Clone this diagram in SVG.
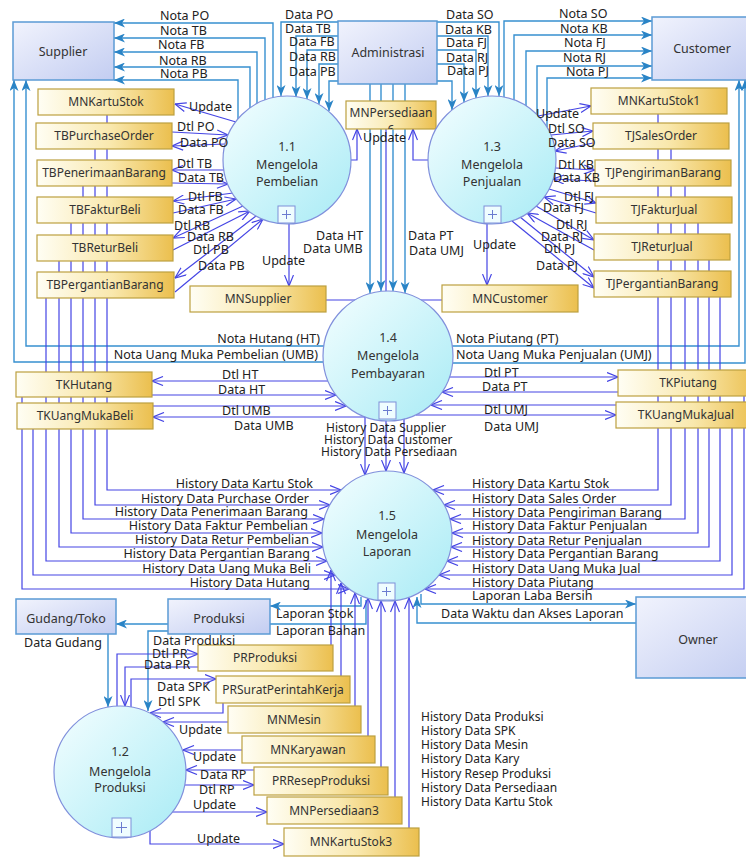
<svg xmlns="http://www.w3.org/2000/svg" width="746" height="858" viewBox="0 0 746 858">
<defs>
<linearGradient id="ge" x1="0" y1="0" x2="1" y2="1"><stop offset="0" stop-color="#f1f3fd"/><stop offset="1" stop-color="#c3cdf1"/></linearGradient>
<linearGradient id="gs" x1="0" y1="0" x2="1" y2="0"><stop offset="0" stop-color="#fffef4"/><stop offset="0.55" stop-color="#f9e8ad"/><stop offset="1" stop-color="#ebbf4e"/></linearGradient>
<linearGradient id="gc" x1="0" y1="0" x2="1" y2="1"><stop offset="0" stop-color="#f4feff"/><stop offset="1" stop-color="#a8ebf5"/></linearGradient>
<clipPath id="cpP"><rect x="346" y="101" width="90" height="28"/></clipPath>
<marker id="fa" viewBox="0 0 11 9" refX="11" refY="4.5" markerWidth="11" markerHeight="9" markerUnits="userSpaceOnUse" orient="auto"><path d="M0,0 L11,4.5 L0,9 L3,4.5 z" fill="#2a84c6"/></marker>
<marker id="oa" viewBox="0 0 12 10" refX="11.5" refY="5" markerWidth="12" markerHeight="10" markerUnits="userSpaceOnUse" orient="auto"><path d="M0.5,0.5 L11.5,5 L0.5,9.5" fill="none" stroke="#4444e4" stroke-width="1.2"/></marker>
<style>
.s{fill:none;stroke:#3790d0;stroke-width:1.4;marker-end:url(#fa)}
.v{fill:none;stroke:#4444e4;stroke-width:1.2;marker-end:url(#oa)}
.t{font-family:"Noto Sans","Open Sans",sans-serif;font-size:12.5px;fill:#222}
.sm{font-size:12px}
.n{font-family:"Noto Sans","Open Sans",sans-serif;font-size:12px;fill:#333;text-anchor:middle}
.e{font-family:"Noto Sans","Open Sans",sans-serif;font-size:12.5px;fill:#333;text-anchor:middle}
.st{fill:url(#gs);stroke:#bca040;stroke-width:1.2}
.en{fill:url(#ge);stroke:#5b9bd5;stroke-width:1.5}
.pc{fill:url(#gc);stroke:#8090dc;stroke-width:1.2}
.pl{fill:#effdff;stroke:#7e8fd8;stroke-width:1}
.px{fill:none;stroke:#6a7cd0;stroke-width:1}
</style>
</defs>
<rect width="746" height="858" fill="#ffffff"/>
<g id="connectors">
<path class="s" d="M273,98 V23 H114"/>
<path class="s" d="M265,100 V38 H114"/>
<path class="s" d="M257,104 V52 H114"/>
<path class="s" d="M250,108 V67 H114"/>
<path class="s" d="M238,119 V80 H114"/>
<path class="s" d="M338,22 H281 V96"/>
<path class="s" d="M338,36 H296 V97"/>
<path class="s" d="M338,50 H307 V99"/>
<path class="s" d="M338,64 H319 V104"/>
<path class="s" d="M338,81 H329 V111"/>
<path class="s" d="M437,22 H499 V96"/>
<path class="s" d="M437,36 H488 V96"/>
<path class="s" d="M437,50 H476 V98"/>
<path class="s" d="M437,64 H464 V102"/>
<path class="s" d="M437,81 H452 V110"/>
<path class="s" d="M504,97 V21 H652"/>
<path class="s" d="M514,100 V35 H652"/>
<path class="s" d="M526,106 V51 H652"/>
<path class="s" d="M537,114 V66 H652"/>
<path class="s" d="M547,127 V78 H652"/>
<path class="s" d="M370,84 V293"/>
<path class="s" d="M381,84 V291"/>
<path class="s" d="M393,84 V291"/>
<path class="s" d="M405,84 V293"/>
<path class="s" d="M324,346 H26 V80"/>
<path class="s" d="M323,362 H14 V80"/>
<path class="s" d="M452,346 H739 V80"/>
<path class="s" d="M453,363 H745 V80"/>
<path class="s" d="M421,594 V604 H636"/>
<path class="s" d="M636,623 H417 V597"/>
<path class="s" d="M361,597 V606 H270"/>
<path class="s" d="M366,600 V624 H116"/>
<path class="s" d="M108,634 V707"/>
<path class="s" d="M168,631 H148 V711"/>
<path class="v" d="M236,122 L175,104"/>
<path class="v" d="M172,132 L228,135"/>
<path class="v" d="M225,144 L172,146"/>
<path class="v" d="M224,170 L172,170"/>
<path class="v" d="M172,183 L228,184"/>
<path class="v" d="M233,193 L173,201"/>
<path class="v" d="M173,213 L236,199"/>
<path class="v" d="M243,206 L173,238"/>
<path class="v" d="M173,250 L250,211"/>
<path class="v" d="M256,216 L175,278"/>
<path class="v" d="M175,292 L263,219"/>
<path class="v" d="M289,224 V286"/>
<path class="v" d="M351,160 H357 V129"/>
<path class="v" d="M428,160 H413 V129"/>
<path class="v" d="M487,224 V285"/>
<path class="v" d="M326,300 H365 V475"/>
<path class="v" d="M442,300 H404 V473"/>
<path class="v" d="M386,129 V471"/>
<path class="v" d="M538,116 L591,106"/>
<path class="v" d="M551,135 L593,131"/>
<path class="v" d="M593,143 L555,151"/>
<path class="v" d="M556,168 L595,170"/>
<path class="v" d="M595,181 L553,179"/>
<path class="v" d="M549,189 L596,203"/>
<path class="v" d="M596,213 L544,197"/>
<path class="v" d="M536,206 L594,240"/>
<path class="v" d="M594,250 L527,213"/>
<path class="v" d="M520,217 L594,277"/>
<path class="v" d="M512,221 L594,288"/>
<path class="v" d="M328,381 H152"/>
<path class="v" d="M152,395 H336"/>
<path class="v" d="M153,406 H346"/>
<path class="v" d="M365,417 H153"/>
<path class="v" d="M449,377 H618"/>
<path class="v" d="M618,392 H442"/>
<path class="v" d="M616,405 H431"/>
<path class="v" d="M416,415 H616"/>
<path class="v" d="M107,115 V490 H341"/>
<path class="v" d="M95,149 V505 H330"/>
<path class="v" d="M83,186 V519 H324"/>
<path class="v" d="M71,223 V533 H322"/>
<path class="v" d="M59,261 V547 H323"/>
<path class="v" d="M46,298 V561 H327"/>
<path class="v" d="M33,429 V575 H335"/>
<path class="v" d="M22,397 V589 H349"/>
<path class="v" d="M658,114 V490 H433"/>
<path class="v" d="M671,149 V505 H444"/>
<path class="v" d="M685,186 V519 H450"/>
<path class="v" d="M698,223 V533 H452"/>
<path class="v" d="M709,260 V547 H451"/>
<path class="v" d="M720,297 V561 H447"/>
<path class="v" d="M732,428 V575 H439"/>
<path class="v" d="M744,396 V589 H425"/>
<path class="v" d="M331,645 V570"/>
<path class="v" d="M341,676 V583"/>
<path class="v" d="M355,706 V593"/>
<path class="v" d="M368,736 V598"/>
<path class="v" d="M381,767 V601"/>
<path class="v" d="M395,797 V601"/>
<path class="v" d="M409,828 V598"/>
<path class="v" d="M117,706 V654 H198"/>
<path class="v" d="M198,667 H125 V706"/>
<path class="v" d="M131,707 V679 H216"/>
<path class="v" d="M223,703 V713 H150"/>
<path class="v" d="M228,722 H163"/>
<path class="v" d="M242,750 H183"/>
<path class="v" d="M254,770 H186"/>
<path class="v" d="M185,785 H254"/>
<path class="v" d="M172,812 H267"/>
<path class="v" d="M150,831 V844 H284"/>
</g>
<g id="supplier"><rect class="en" x="13" y="22" width="101" height="58"/><text class="e" x="63" y="56">Supplier</text></g>
<g id="administrasi"><rect class="en" x="338" y="21" width="99" height="63"/><text class="e" x="388" y="57">Administrasi</text></g>
<g id="customer"><rect class="en" x="652" y="17" width="100" height="63"/><text class="e" x="702" y="53">Customer</text></g>
<g id="gudang"><rect class="en" x="16" y="599" width="100" height="35"/><text class="e" x="66" y="623">Gudang/Toko</text></g>
<g id="produksi"><rect class="en" x="168" y="599" width="102" height="35"/><text class="e" x="219" y="623">Produksi</text></g>
<g id="owner"><rect class="en" x="636" y="597" width="124" height="81"/><text class="e" x="698" y="644">Owner</text></g>
<g id="mnkartustok"><rect class="st" x="38" y="89" width="136" height="26"/><text class="n" x="106" y="106">MNKartuStok</text></g>
<g id="tbpurchaseorder"><rect class="st" x="36" y="123" width="136" height="26"/><text class="n" x="104" y="140">TBPurchaseOrder</text></g>
<g id="tbpenerimaanbarang"><rect class="st" x="37" y="160" width="135" height="26"/><text class="n" x="104" y="177">TBPenerimaanBarang</text></g>
<g id="tbfakturbeli"><rect class="st" x="37" y="197" width="136" height="26"/><text class="n" x="105" y="214">TBFakturBeli</text></g>
<g id="tbreturbeli"><rect class="st" x="37" y="235" width="136" height="26"/><text class="n" x="105" y="252">TBReturBeli</text></g>
<g id="tbpergantianbarang"><rect class="st" x="37" y="272" width="137" height="26"/><text class="n" x="105" y="289">TBPergantianBarang</text></g>
<g id="mnsupplier"><rect class="st" x="190" y="286" width="136" height="26"/><text class="n" x="258" y="303">MNSupplier</text></g>
<g id="mncustomer"><rect class="st" x="442" y="285" width="136" height="27"/><text class="n" x="510" y="303">MNCustomer</text></g>
<g id="mnpersediaan6"><rect class="st" x="346" y="101" width="90" height="28"/><text class="n" x="391" y="117">MNPersediaan</text><text class="n" x="391" y="134" clip-path="url(#cpP)">6</text></g>
<g id="mnkartustok1"><rect class="st" x="591" y="88" width="136" height="26"/><text class="n" x="659" y="105">MNKartuStok1</text></g>
<g id="tjsalesorder"><rect class="st" x="593" y="123" width="136" height="26"/><text class="n" x="661" y="140">TJSalesOrder</text></g>
<g id="tjpengirimanbarang"><rect class="st" x="595" y="160" width="136" height="26"/><text class="n" x="663" y="177">TJPengirimanBarang</text></g>
<g id="tjfakturjual"><rect class="st" x="596" y="197" width="136" height="26"/><text class="n" x="664" y="214">TJFakturJual</text></g>
<g id="tjreturjual"><rect class="st" x="594" y="234" width="136" height="26"/><text class="n" x="662" y="251">TJReturJual</text></g>
<g id="tjpergantianbarang"><rect class="st" x="594" y="271" width="137" height="26"/><text class="n" x="662" y="288">TJPergantianBarang</text></g>
<g id="tkhutang"><rect class="st" x="16" y="372" width="136" height="25"/><text class="n" x="84" y="389">TKHutang</text></g>
<g id="tkuangmukabeli"><rect class="st" x="17" y="403" width="136" height="26"/><text class="n" x="85" y="420">TKUangMukaBeli</text></g>
<g id="tkpiutang"><rect class="st" x="618" y="370" width="140" height="26"/><text class="n" x="688" y="387">TKPiutang</text></g>
<g id="tkuangmukajual"><rect class="st" x="616" y="402" width="140" height="26"/><text class="n" x="686" y="419">TKUangMukaJual</text></g>
<g id="prproduksi"><rect class="st" x="198" y="645" width="135" height="26"/><text class="n" x="265" y="662">PRProduksi</text></g>
<g id="prsuratperintahkerja"><rect class="st" x="216" y="676" width="134" height="27"/><text class="n" x="283" y="694">PRSuratPerintahKerja</text></g>
<g id="mnmesin"><rect class="st" x="228" y="706" width="133" height="27"/><text class="n" x="294" y="724">MNMesin</text></g>
<g id="mnkaryawan"><rect class="st" x="242" y="736" width="133" height="27"/><text class="n" x="308" y="754">MNKaryawan</text></g>
<g id="prresepproduksi"><rect class="st" x="254" y="767" width="134" height="28"/><text class="n" x="321" y="785">PRResepProduksi</text></g>
<g id="mnpersediaan3"><rect class="st" x="267" y="797" width="135" height="27"/><text class="n" x="334" y="815">MNPersediaan3</text></g>
<g id="mnkartustok3"><rect class="st" x="284" y="828" width="135" height="28"/><text class="n" x="351" y="846">MNKartuStok3</text></g>
<g id="p11"><circle class="pc" cx="287" cy="160" r="64"/><text class="e" x="287" y="151">1.1</text><text class="e" x="287" y="169">Mengelola</text><text class="e" x="287" y="186">Pembelian</text><rect class="pl" x="278" y="206" width="17" height="17"/><path class="px" d="M282,214.5h9M286.5,210v9"/></g>
<g id="p13"><circle class="pc" cx="492" cy="160" r="64"/><text class="e" x="492" y="151">1.3</text><text class="e" x="492" y="169">Mengelola</text><text class="e" x="492" y="186">Penjualan</text><rect class="pl" x="484" y="206" width="17" height="17"/><path class="px" d="M488,214.5h9M492.5,210v9"/></g>
<g id="p14"><circle class="pc" cx="388" cy="356" r="65"/><text class="e" x="388" y="342">1.4</text><text class="e" x="388" y="360">Mengelola</text><text class="e" x="388" y="378">Pembayaran</text><rect class="pl" x="379" y="402" width="17" height="17"/><path class="px" d="M383,410.5h9M387.5,406v9"/></g>
<g id="p15"><circle class="pc" cx="387" cy="536" r="65"/><text class="e" x="387" y="520">1.5</text><text class="e" x="387" y="539">Mengelola</text><text class="e" x="387" y="556">Laporan</text><rect class="pl" x="378" y="583" width="17" height="17"/><path class="px" d="M382,591.5h9M386.5,587v9"/></g>
<g id="p12"><circle class="pc" cx="120" cy="772" r="66"/><text class="e" x="120" y="756">1.2</text><text class="e" x="120" y="776">Mengelola</text><text class="e" x="120" y="792">Produksi</text><rect class="pl" x="112" y="818" width="19" height="19"/><path class="px" d="M116,827.5h11M121.5,822v11"/></g>
<g id="labels" class="t">
<text x="160" y="20">Nota PO</text><text x="160" y="35">Nota TB</text><text x="158" y="49">Nota FB</text><text x="159" y="65">Nota RB</text><text x="160" y="78">Nota PB</text>
<text x="285" y="19">Data PO</text><text x="285" y="33">Data TB</text><text x="289" y="46">Data FB</text><text x="289" y="61">Data RB</text><text x="289" y="76">Data PB</text>
<text x="446" y="19">Data SO</text><text x="445" y="34">Data KB</text><text x="446" y="47">Data FJ</text><text x="446" y="62">Data RJ</text><text x="447" y="75">Data PJ</text>
<text x="559" y="18">Nota SO</text><text x="560" y="33">Nota KB</text><text x="564" y="47">Nota FJ</text><text x="563" y="62">Nota RJ</text><text x="566" y="76">Nota PJ</text>
<text x="189" y="111">Update</text><text x="177" y="131">Dtl PO</text><text x="180" y="147">Data PO</text><text x="177" y="168">Dtl TB</text><text x="178" y="182">Data TB</text><text x="188" y="201">Dtl FB</text><text x="178" y="214">Data FB</text><text x="174" y="230">Dtl RB</text><text x="187" y="241">Data RB</text><text x="193" y="254">Dtl PB</text><text x="198" y="270">Data PB</text>
<text x="363" y="142">Update</text>
<text x="536" y="118">Update</text><text x="548" y="133">Dtl SO</text><text x="548" y="147">Data SO</text><text x="558" y="169">Dtl KB</text><text x="553" y="182">Data KB</text><text x="564" y="201">Dtl FJ</text><text x="543" y="212">Data FJ</text><text x="556" y="229">Dtl RJ</text><text x="541" y="241">Data RJ</text><text x="544" y="253">Dtl PJ</text><text x="536" y="270">Data PJ</text>
<text x="262" y="265">Update</text><text x="316" y="240">Data HT</text><text x="303" y="253">Data UMB</text><text x="408" y="240">Data PT</text><text x="409" y="255">Data UMJ</text><text x="473" y="249">Update</text>
<text x="320" y="343" text-anchor="end">Nota Hutang (HT)</text><text x="318" y="359" text-anchor="end">Nota Uang Muka Pembelian (UMB)</text>
<text x="456" y="343">Nota Piutang (PT)</text><text x="456" y="359">Nota Uang Muka Penjualan (UMJ)</text>
<text x="222" y="379">Dtl HT</text><text x="218" y="394">Data HT</text><text x="222" y="415">Dtl UMB</text><text x="234" y="430">Data UMB</text>
<text x="484" y="377">Dtl PT</text><text x="482" y="391">Data PT</text><text x="484" y="414">Dtl UMJ</text><text x="484" y="431">Data UMJ</text>
<g class="sm"><text x="326" y="432">History Data Supplier</text><text x="324" y="444">History Data Customer</text><text x="321" y="456">History Data Persediaan</text></g>
<g text-anchor="end"><text x="313" y="488">History Data Kartu Stok</text><text x="309" y="503">History Data Purchase Order</text><text x="308" y="516">History Data Penerimaan Barang</text><text x="308" y="530">History Data Faktur Pembelian</text><text x="309" y="544">History Data Retur Pembelian</text><text x="310" y="558">History Data Pergantian Barang</text><text x="311" y="573">History Data Uang Muka Beli</text><text x="310" y="587">History Data Hutang</text></g>
<text x="472" y="488">History Data Kartu Stok</text><text x="472" y="503">History Data Sales Order</text><text x="472" y="517">History Data Pengiriman Barang</text><text x="472" y="530">History Data Faktur Penjualan</text><text x="472" y="545">History Data Retur Penjualan</text><text x="472" y="558">History Data Pergantian Barang</text><text x="472" y="573">History Data Uang Muka Jual</text><text x="472" y="587">History Data Piutang</text>
<text x="472" y="600">Laporan Laba Bersih</text><text x="441" y="618">Data Waktu dan Akses Laporan</text>
<text x="276" y="618">Laporan Stok</text><text x="276" y="635">Laporan Bahan</text>
<text x="24" y="647">Data Gudang</text><text x="153" y="645">Data Produksi</text>
<text x="152" y="658">Dtl PR</text><text x="144" y="669">Data PR</text><text x="157" y="691">Data SPK</text><text x="158" y="706">Dtl SPK</text>
<text x="179" y="734">Update</text><text x="193" y="761">Update</text><text x="200" y="779">Data RP</text><text x="199" y="794">Dtl RP</text><text x="193" y="809">Update</text><text x="197" y="843">Update</text>
<g class="sm"><text x="421" y="721">History Data Produksi</text><text x="421" y="735">History Data SPK</text><text x="421" y="749">History Data Mesin</text><text x="421" y="763">History Data Kary</text><text x="421" y="778">History Resep Produksi</text><text x="421" y="792">History Data Persediaan</text><text x="421" y="806">History Data Kartu Stok</text></g>
</g>
</svg>
